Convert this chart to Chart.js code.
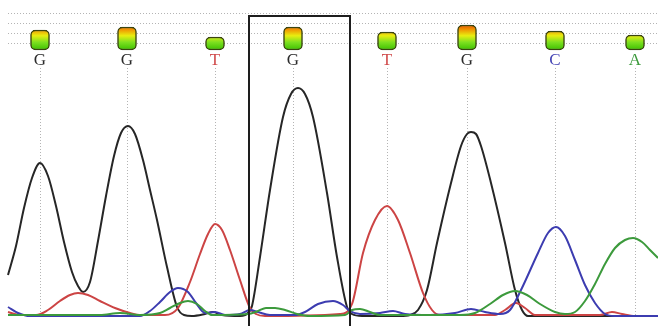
<!DOCTYPE html>
<html>
<head>
<meta charset="utf-8">
<script src="https://cdn.jsdelivr.net/npm/chart.js@4/dist/chart.umd.min.js"></script>
<style>
  html, body { margin: 0; padding: 0; background: #fff; }
  #wrap { width: 658px; height: 326px; position: relative; }
</style>
</head>
<body>
<div id="wrap"><canvas id="trace"></canvas></div>
<script>
// base calls along the read (scan position) and their quality bar heights
const baseCalls = ['G', 'G', 'T', 'G', 'T', 'G', 'C', 'A']
const basePositions = [40, 127, 215, 293, 387, 467, 555, 635]
const quality = [20, 23, 13, 23, 18, 25, 19, 15]
const markerBase = 266
const guideLevels = [303, 293, 283, 273]
const highlight = [249, 350]

// signal traces (scan position / intensity)
const gScan = [8, 16, 24, 32, 40, 48, 56, 64, 72, 78, 83, 90, 98, 106, 114, 121, 128, 135, 143, 150, 157, 167, 177, 184, 192, 205, 213, 222, 240, 249, 252, 260, 270, 283, 291, 298, 305, 313, 327, 337, 347, 352, 362, 400, 410, 418, 427, 437, 451, 461, 467, 471, 476, 481, 491, 505, 515, 522, 528, 658]
const gSignal = [41, 70, 108, 138, 153, 140, 110, 74, 44, 30, 24, 34, 75, 120, 160, 183, 190, 182, 156, 126, 96, 49, 9, 1, 0, 2, 4, 1, 0, 4, 10, 59, 126, 199, 222, 228, 222, 199, 123, 59, 9, 2, 0, 0, 1, 6, 26, 73, 133, 170, 182, 184, 182, 170, 133, 73, 26, 6, 0, 0]

const tScan = [8, 20, 36, 48, 60, 70, 78, 88, 100, 115, 130, 140, 165, 178, 190, 200, 208, 215, 222, 230, 240, 250, 256, 265, 340, 352, 363, 375, 387, 398, 410, 423, 432, 440, 495, 505, 516, 525, 535, 600, 612, 622, 635, 658]
const tSignal = [4, 1, 1, 6, 15, 21, 23, 21, 15, 8, 3, 1, 1, 8, 34, 62, 82, 92, 86, 66, 36, 8, 2, 0, 2, 12, 63, 96, 110, 96, 63, 23, 6, 1, 1, 6, 13, 8, 1, 1, 4, 2, 0, 0]

const cScan = [8, 18, 30, 140, 150, 160, 170, 178, 188, 196, 205, 215, 225, 240, 250, 258, 270, 295, 305, 318, 333, 343, 350, 360, 380, 393, 405, 430, 455, 471, 485, 500, 510, 521, 538, 548, 556, 565, 575, 585, 595, 605, 615, 658]
const cSignal = [9, 3, 0, 0, 5, 14, 24, 28, 24, 13, 3, 4, 1, 2, 6, 4, 1, 1, 4, 12, 15, 11, 5, 2, 3, 5, 2, 1, 3, 7, 4, 2, 6, 26, 63, 83, 89, 80, 56, 31, 13, 2, 0, 0]

const aScan = [8, 100, 120, 140, 160, 170, 180, 188, 197, 205, 212, 248, 258, 266, 275, 285, 297, 310, 345, 352, 360, 370, 380, 460, 475, 490, 503, 515, 527, 540, 555, 565, 575, 585, 595, 605, 615, 625, 633, 642, 650, 658]
const aSignal = [1, 1, 3, 1, 3, 8, 13, 15, 12, 5, 1, 2, 5, 8, 8, 6, 2, 0, 1, 6, 7, 4, 1, 1, 3, 12, 21, 25, 21, 12, 4, 2, 4, 15, 32, 52, 68, 76, 78, 74, 66, 58]

const letterColors = { G: '#2a2a2a', T: '#d04a4a', C: '#4444b4', A: '#3c9a3c' }

function toPoints(xs, ys) {
    return xs.map((x, i) => ({ x: x, y: ys[i] }))
}

function traceDataset(xs, ys, color) {
    return {
        type: 'line',
        data: toPoints(xs, ys),
        borderColor: color,
        borderWidth: 2,
        pointRadius: 0,
        cubicInterpolationMode: 'monotone',
        fill: false,
    }
}

// dotted guides, call letters and the highlight box
const decorations = {
    id: 'decorations',
    beforeDatasetsDraw(chart) {
        let { ctx, scales: { x, y } } = chart
        ctx.save()
        ctx.lineWidth = 1
        ctx.setLineDash([1, 2])
        ctx.strokeStyle = '#b4b4b4'
        for (let level of guideLevels) {
            let py = Math.round(y.getPixelForValue(level)) + 0.5
            ctx.beginPath()
            ctx.moveTo(x.getPixelForValue(8), py)
            ctx.lineTo(x.getPixelForValue(658), py)
            ctx.stroke()
        }
        for (let pos of basePositions) {
            let px = Math.round(x.getPixelForValue(pos)) + 0.5
            ctx.beginPath()
            ctx.moveTo(px, 68)
            ctx.lineTo(px, y.getPixelForValue(0))
            ctx.stroke()
        }
        ctx.restore()
    },
    afterDatasetsDraw(chart) {
        let { ctx, scales: { x, y } } = chart
        ctx.save()
        ctx.font = '17px "Liberation Serif"'
        ctx.textAlign = 'center'
        ctx.textBaseline = 'middle'
        baseCalls.forEach((b, i) => {
            ctx.fillStyle = letterColors[b]
            ctx.fillText(b, x.getPixelForValue(basePositions[i]), 61)
        })
        ctx.strokeStyle = '#1e1e1e'
        ctx.lineWidth = 2
        let left = Math.round(x.getPixelForValue(highlight[0]))
        let right = Math.round(x.getPixelForValue(highlight[1]))
        let top = Math.round(y.getPixelForValue(300))
        ctx.strokeRect(left, top, right - left, chart.height - top + 4)
        ctx.restore()
    }
}

function markerFill(context) {
    let chart = context.chart
    let y = chart.scales.y
    if (!chart.chartArea || !y) return '#6c0'
    let g = chart.ctx.createLinearGradient(0, y.getPixelForValue(292), 0, y.getPixelForValue(markerBase))
    g.addColorStop(0, '#e04a00')
    g.addColorStop(0.2, '#f09000')
    g.addColorStop(0.45, '#e8ee10')
    g.addColorStop(0.7, '#7ee020')
    g.addColorStop(1, '#3cc000')
    return g
}

new Chart(document.getElementById('trace'), {
    type: 'line',
    data: {
        datasets: [
            traceDataset(aScan, aSignal, '#3c9a3c'),
            traceDataset(cScan, cSignal, '#3c3cb0'),
            traceDataset(tScan, tSignal, '#cc4444'),
            traceDataset(gScan, gSignal, '#262626'),
            {
                type: 'bar',
                data: basePositions.map((pos, i) => ({ x: pos, y: [markerBase, markerBase + quality[i]] })),
                backgroundColor: markerFill,
                borderColor: '#3a4410',
                borderWidth: 1.5,
                borderRadius: 5,
                borderSkipped: false,
                barThickness: 19,
                clip: false,
            },
        ]
    },
    options: {
        responsive: true,
        maintainAspectRatio: false,
        animation: false,
        layout: { padding: 0 },
        scales: {
            x: { type: 'linear', display: false, offset: false, min: 0, max: 658 },
            y: { display: false, min: -10, max: 316 },
        },
        plugins: {
            legend: { display: false },
            tooltip: { enabled: false },
        },
    },
    plugins: [decorations]
})
</script>
</body>
</html>
